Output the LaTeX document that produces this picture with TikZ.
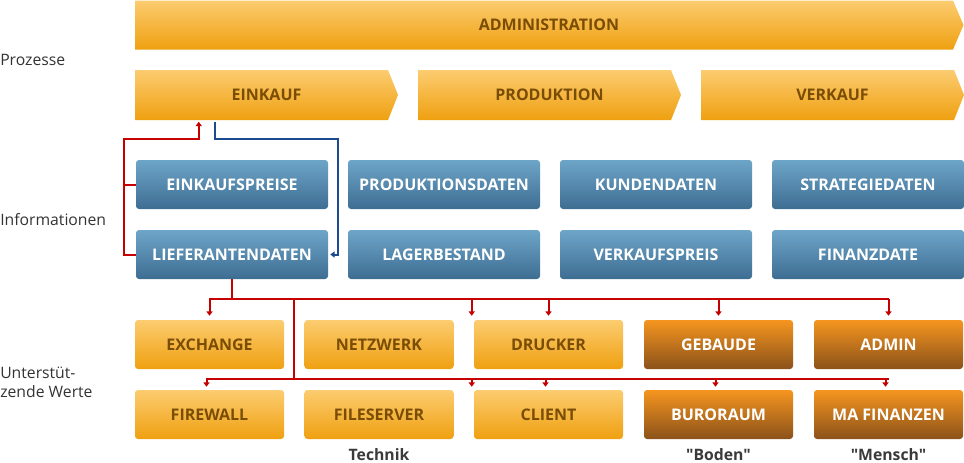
\documentclass[tikz,border=0pt]{standalone}
\usepackage{fontspec}
\setmainfont{Open Sans}
\newfontfamily\footfont{Open Sans}
\usetikzlibrary{arrows.meta,calc}
\definecolor{ytop}{HTML}{FCCC70}
\definecolor{ybot}{HTML}{EFA010}
\definecolor{ytext}{HTML}{7A4D05}
\definecolor{btop}{HTML}{6DA5C8}
\definecolor{bbot}{HTML}{3E6D92}
\definecolor{otop}{HTML}{F5951F}
\definecolor{obot}{HTML}{8B521A}
\definecolor{rline}{HTML}{C40000}
\definecolor{bline}{HTML}{1C4B92}
\definecolor{lbl}{HTML}{333333}
\definecolor{flbl}{HTML}{3A3A3A}
\begin{document}
\begin{tikzpicture}[x=0.75pt,y=-0.75pt,
  boxtext/.style={font=\bfseries\fontsize{12}{14}\selectfont, inner sep=0pt},
  ybox/.style={boxtext, rounded corners=2.25pt, top color=ytop, bottom color=ybot, text=ytext, minimum width=111.75pt, minimum height=36.75pt},
  obox/.style={boxtext, rounded corners=2.25pt, top color=otop, bottom color=obot, text=white, minimum width=111.75pt, minimum height=36.75pt},
  bbox/.style={boxtext, rounded corners=2.25pt, top color=btop, bottom color=bbot, text=white, minimum width=144pt, minimum height=36.75pt},
  procshade/.style={top color=ytop, bottom color=ybot},
  proctext/.style={boxtext, text=ytext, minimum height=36.75pt},
  rl/.style={draw=rline, line width=1.5pt},
  bl/.style={draw=bline, line width=1.5pt},
  arr/.style={-{Triangle[width=4.5pt,length=3.2pt]}},
  sidelabel/.style={font=\fontsize{11.8}{14.5}\selectfont, text=lbl, inner sep=0pt, anchor=west, align=left},
  footlabel/.style={font=\footfont\bfseries\fontsize{11.8}{13}\selectfont, text=flbl, inner sep=0pt, anchor=base}
]
\useasboundingbox (0,0) rectangle (964,462);

% process arrows
\shade[procshade] (135,0.5) -- (953,0.5) -- (963.5,25) -- (953,49.5) -- (135,49.5) -- cycle;
\node[proctext, minimum width=621pt] (adm) at (549,25) {ADMINISTRATION};
\shade[procshade] (135,70) -- (388,70) -- (398,95) -- (388,120) -- (135,120) -- cycle;
\node[proctext, minimum width=197.25pt] (eink) at (266.5,95) {EINKAUF};
\shade[procshade] (418,70) -- (671,70) -- (681,95) -- (671,120) -- (418,120) -- cycle;
\node[proctext, minimum width=197.25pt] (prod) at (549.5,95) {PRODUKTION};
\shade[procshade] (701,70) -- (954,70) -- (964,95) -- (954,120) -- (701,120) -- cycle;
\node[proctext, minimum width=197.25pt] (verk) at (832.5,95) {VERKAUF};

% information boxes
\node[bbox] (preis) at (232,184.5) {EINKAUFSPREISE};
\node[bbox] (pdat) at (444,184.5) {PRODUKTIONSDATEN};
\node[bbox] (kdat) at (656,184.5) {KUNDENDATEN};
\node[bbox] (sdat) at (868,184.5) {STRATEGIEDATEN};
\node[bbox] (lief) at (232,254.5) {LIEFERANTENDATEN};
\node[bbox] (lager) at (444,254.5) {LAGERBESTAND};
\node[bbox] (vpreis) at (656,254.5) {VERKAUFSPREIS};
\node[bbox] (fdat) at (868,254.5) {FINANZDATE};

% supporting values
\node[ybox] (exch) at (209.5,344.5) {EXCHANGE};
\node[ybox] (netz) at (379,344.5) {NETZWERK};
\node[ybox] (druck) at (548.5,344.5) {DRUCKER};
\node[obox] (geb) at (718.5,344.5) {GEBAUDE};
\node[obox] (admn) at (888.5,344.5) {ADMIN};
\node[ybox] (fire) at (209.5,414.5) {FIREWALL};
\node[ybox] (files) at (379,414.5) {FILESERVER};
\node[ybox] (client) at (548.5,414.5) {CLIENT};
\node[obox] (bur) at (718.5,414.5) {BURORAUM};
\node[obox] (mafi) at (888.5,414.5) {MA FINANZEN};

% side labels
\node[sidelabel] (lp) at (0,60) {Prozesse};
\node[sidelabel] (li) at (0,220) {Informationen};
\node[sidelabel] (lu) at (0,382.5) {Unterstüt-\\zende Werte};

% foot labels
\node[footlabel] (tech) at (379,460) {Technik};
\node[footlabel] (boden) at (718.5,460) {"Boden"};
\node[footlabel] (mensch) at (888.5,460) {"Mensch"};

% red connector to EINKAUF
\draw[rl, arr] (lief.west) -- ++(-12,0) |- ($(eink.south west)+(64,19)$) -- ($(eink.south west)+(64,2)$);
\draw[rl] (preis.west) -- ++(-12,0);

% blue connector from EINKAUF
\draw[bl, arr] ($(eink.south west)+(80,2)$) -- ++(0,17) -| ($(lief.east)+(10,0)$) -- ($(lief.east)+(2,0)$);

% red tree
\coordinate (t1) at ($(lief.south)+(0,20)$);
\coordinate (t2) at ($(fire.north)+(0,-11)$);
\coordinate (tr) at ($(exch.north east)!0.5!(netz.north west)$);
\coordinate (d0) at ($(druck.north west)+(-2,-4)$);
\coordinate (c0) at ($(client.north west)+(-2,-3)$);
\draw[rl] (lief.south) -- (t1);
\draw[rl] ($(exch.north |- t1)+(-0.75,0)$) -- ($(admn.north |- t1)+(0.75,0)$);
\foreach \p in {exch.north, druck.north, geb.north, admn.north}
  \draw[rl, arr] (\p |- t1) -- ($(\p)+(0,-4)$);
\draw[rl, arr] (d0 |- t1) -- (d0);
\draw[rl] (tr |- t1) -- (tr |- t2);
\draw[rl] ($(fire.north |- t2)+(-3.75,0)$) -- ($(mafi.north |- t2)+(0.75,0)$);
\foreach \p in {fire.north, client.north, bur.north, mafi.north}
  \draw[rl, arr] ($(\p |- t2)+(-3,0)$) -- ($(\p)+(-3,-3)$);
\draw[rl, arr] (c0 |- t2) -- (c0);
\end{tikzpicture}
\end{document}
